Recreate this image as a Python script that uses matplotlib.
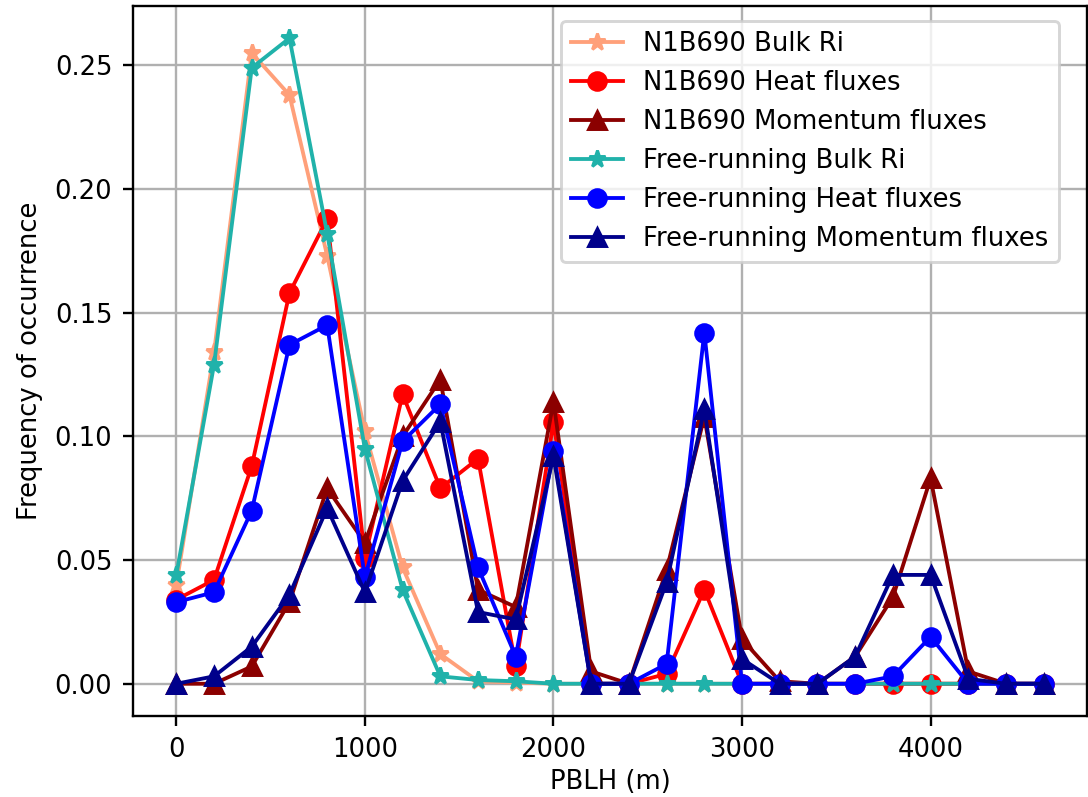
import numpy as np
import matplotlib
matplotlib.use("Agg")
import matplotlib.pyplot as plt

pblh = np.arange(0, 4601, 200)

n1_bulk = [0.040, 0.134, 0.255, 0.238, 0.173, 0.102, 0.047, 0.012, 0.001, 0.0005, 0, 0,
           0, 0, 0, 0, 0, 0, 0, 0, 0, 0, 0, 0]
n1_heat = [0.034, 0.042, 0.088, 0.158, 0.188, 0.051, 0.117, 0.079, 0.091, 0.007, 0.106, 0,
           0, 0.004, 0.038, 0, 0, 0, 0, 0, 0, 0, 0, 0]
n1_mom = [0, 0, 0.007, 0.033, 0.079, 0.057, 0.100, 0.123, 0.038, 0.031, 0.114, 0.005,
          0, 0.046, 0.108, 0.018, 0.001, 0, 0.011, 0.035, 0.083, 0.005, 0, 0]
fr_bulk = [0.044, 0.129, 0.249, 0.261, 0.182, 0.095, 0.038, 0.003, 0.0015, 0.001, 0, 0,
           0, 0, 0, 0, 0, 0, 0, 0, 0, 0, 0, 0]
fr_heat = [0.033, 0.037, 0.070, 0.137, 0.145, 0.043, 0.098, 0.113, 0.047, 0.011, 0.094, 0,
           0, 0.008, 0.142, 0, 0, 0, 0, 0.003, 0.019, 0, 0, 0]
fr_mom = [0, 0.003, 0.015, 0.036, 0.071, 0.037, 0.082, 0.106, 0.029, 0.026, 0.092, 0,
          0, 0.041, 0.111, 0.010, 0, 0, 0.011, 0.044, 0.044, 0.002, 0, 0]

plt.rcParams["font.size"] = 8.8
plt.rcParams["lines.linewidth"] = 1.3

dpi = 212
fig = plt.figure(figsize=(1088 / dpi, 797 / dpi), dpi=dpi)
ax = fig.add_axes([0.1222, 0.1016, 0.877, 0.891])
ax.plot(pblh, n1_bulk, "-*", color="lightsalmon", label="N1B690 Bulk Ri")
ax.plot(pblh, n1_heat, "-o", color="red", label="N1B690 Heat fluxes")
ax.plot(pblh, n1_mom, "-^", color="darkred", label="N1B690 Momentum fluxes")
ax.plot(pblh, fr_bulk, "-*", color="lightseagreen", label="Free-running Bulk Ri")
ax.plot(pblh, fr_heat, "-o", color="blue", label="Free-running Heat fluxes")
ax.plot(pblh, fr_mom, "-^", color="darkblue", label="Free-running Momentum fluxes")
ax.set_xlabel("PBLH (m)", labelpad=2)
ax.set_ylabel("Frequency of occurrence")
ax.grid()
ax.legend(loc="upper right", bbox_to_anchor=(0.9706, 0.979), borderaxespad=0)
fig.savefig("out.png")
